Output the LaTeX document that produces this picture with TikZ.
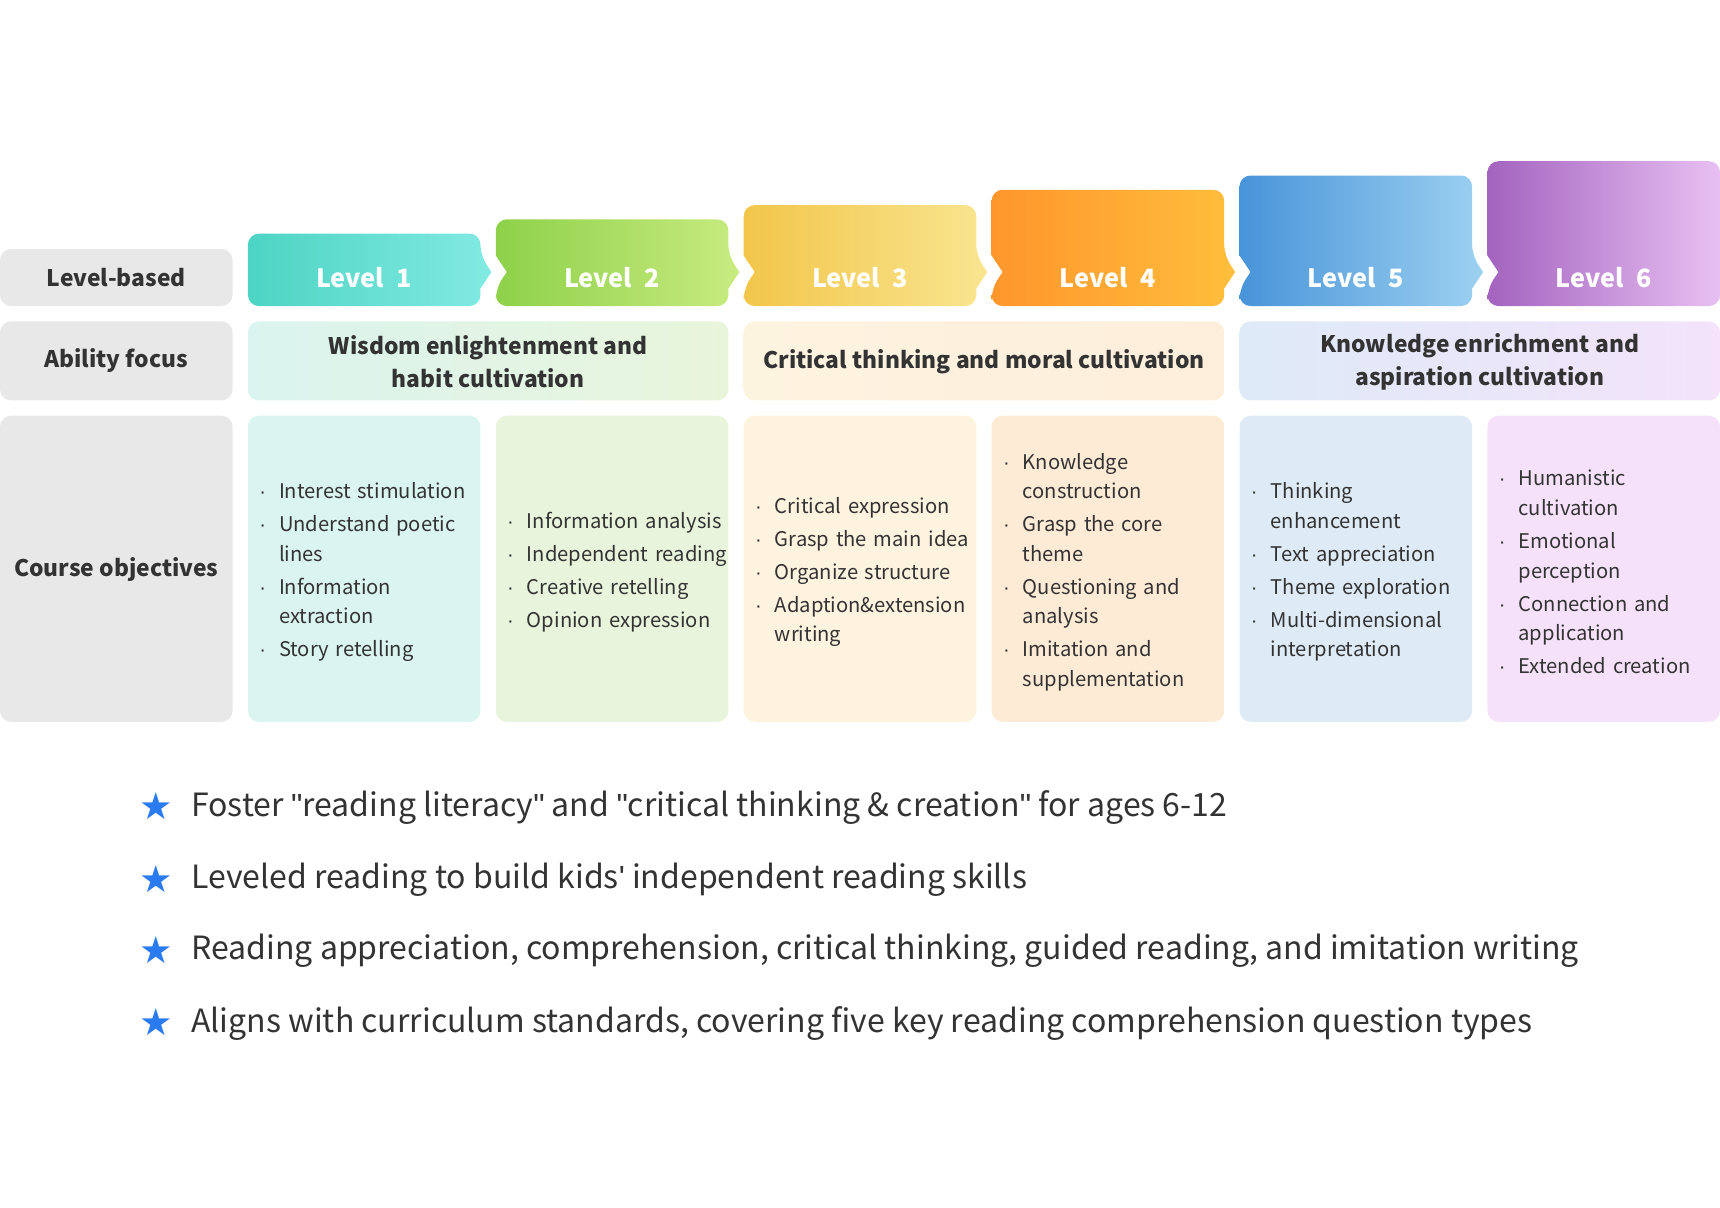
\documentclass[tikz,border=0pt]{standalone}
\usepackage{fontspec}
\setmainfont{Noto Sans CJK SC}
\newfontfamily\symf{DejaVu Sans}
\newfontfamily\qf{Liberation Sans}
\usetikzlibrary{shapes.geometric}
\definecolor{txt}{HTML}{333333}
\definecolor{gr}{HTML}{E8E8E8}
\definecolor{starblue}{HTML}{2B7BF0}
\tikzset{
  lab/.style={font=\bfseries\fontsize{10.4}{15}\selectfont, text=txt, align=center},
  lvl/.style={font=\bfseries\fontsize{11.5}{14}\selectfont, text=white},
  lst/.style={anchor=west, text=txt, font=\fontsize{9.2}{13.5}\selectfont, text width=120pt, align=left, inner sep=0pt},
  bl/.style={anchor=west, text=txt, font=\fontsize{14.6}{18}\selectfont, inner sep=0pt},
  star/.style={anchor=center, text=starblue, font=\symf\fontsize{17}{18}\selectfont, inner sep=0pt}
}
\newcommand{\itm}[1]{{\hangindent=9pt\hangafter=1\noindent\makebox[9pt][l]{\qf·}#1\par}\vspace{1.5pt}}
\newcommand{\nl}{\hfil\break}
\newcommand{\q}{{\qf"}}
\begin{document}
\begin{tikzpicture}[x=0.5pt,y=-0.5pt]
\useasboundingbox (0,0) rectangle (1568,1101);
% left gray column
\fill[gr, rounded corners=5pt] (0,227) rectangle (212,279);
\fill[gr, rounded corners=5pt] (0,293) rectangle (212,365);
\fill[gr, rounded corners=5pt] (0,379) rectangle (212,658);
\node[lab] (lb) at (106,253) {Level-based};
\node[lab] (af) at (106,329) {Ability focus};
\node[lab] (co) at (106,519) {Course objectives};
% level headers
\foreach \i/\t/\ca/\cb in {0/213/4DD4C4/82EAE2, 1/200/8ED14A/C8EB80, 2/187/F2C64A/F9E590, 3/173/FF962C/FFBE3C, 4/160/4894D9/9DD1F1, 5/147/A363BF/E8C0F2}{
  \pgfmathsetmacro{\xl}{226+226*\i}
  \pgfmathsetmacro{\xr}{\xl+212}
  \definecolor{ca}{HTML}{\ca}\definecolor{cb}{HTML}{\cb}
  \ifnum\i=0
    \shade[left color=ca, right color=cb, rounded corners=5pt]
      (\xl,\t) -- (\xr,\t) -- (\xr,233) [sharp corners]-- (\xr+10,248) -- (\xr,263) [rounded corners=5pt]-- (\xr,279) -- (\xl,279) -- cycle;
  \else\ifnum\i=5
    \shade[left color=ca, right color=cb, rounded corners=5pt]
      (\xl,\t) -- (\xr,\t) -- (\xr,279) -- (\xl,279) -- (\xl,263) [sharp corners]-- (\xl+10,248) -- (\xl,233) [rounded corners=5pt]-- cycle;
  \else
    \shade[left color=ca, right color=cb, rounded corners=5pt]
      (\xl,\t) -- (\xr,\t) -- (\xr,233) [sharp corners]-- (\xr+10,248) -- (\xr,263) [rounded corners=5pt]-- (\xr,279) -- (\xl,279) -- (\xl,263) [sharp corners]-- (\xl+10,248) -- (\xl,233) [rounded corners=5pt]-- cycle;
  \fi\fi
}
\node[lvl] (l1) at (332,253) {Level\enspace 1};
\node[lvl] (l2) at (558,253) {Level\enspace 2};
\node[lvl] (l3) at (784,253) {Level\enspace 3};
\node[lvl] (l4) at (1010,253) {Level\enspace 4};
\node[lvl] (l5) at (1236,253) {Level\enspace 5};
\node[lvl] (l6) at (1462,253) {Level\enspace 6};
% ability focus
\definecolor{a1}{HTML}{DAF4EF}\definecolor{a2}{HTML}{E9F5DB}
\definecolor{a3}{HTML}{FDF4E0}\definecolor{a4}{HTML}{FDEEDB}
\definecolor{a5}{HTML}{DEEAF8}\definecolor{a6}{HTML}{F4E3FA}
\shade[left color=a1, right color=a2, rounded corners=5pt] (226,293) rectangle (664,365);
\shade[left color=a3, right color=a4, rounded corners=5pt] (678,293) rectangle (1116,365);
\shade[left color=a5, right color=a6, rounded corners=5pt] (1130,293) rectangle (1568,365);
\node[lab] (f1) at (445,330) {Wisdom enlightenment and\\habit cultivation};
\node[lab] (f2) at (897,330) {Critical thinking and moral cultivation};
\node[lab] (f3) at (1349,330) {Knowledge enrichment and\\aspiration cultivation};
% objectives boxes
\foreach \i/\c in {0/DAF4EF,1/E8F5DC,2/FDF3DF,3/FDEBD5,4/DEEBF7,5/F6E1FA}{
  \definecolor{oc}{HTML}{\c}
  \fill[oc, rounded corners=5pt] (226+226*\i,379) rectangle (438+226*\i,658);
}
\node[lst] (o1) at (236,523) {\itm{Interest stimulation}\itm{Understand poetic\nl lines}\itm{Information\nl extraction}\itm{Story retelling}};
\node[lst] (o2) at (462,523) {\itm{Information analysis}\itm{Independent reading}\itm{Creative retelling}\itm{Opinion expression}};
\node[lst] (o3) at (688,523) {\itm{Critical expression}\itm{Grasp the main idea}\itm{Organize structure}\itm{Adaption\&extension\nl writing}};
\node[lst] (o4) at (914,523) {\itm{Knowledge\nl construction}\itm{Grasp the core\nl theme}\itm{Questioning and\nl analysis}\itm{Imitation and\nl supplementation}};
\node[lst] (o5) at (1140,523) {\itm{Thinking\nl enhancement}\itm{Text appreciation}\itm{Theme exploration}\itm{Multi-dimensional\nl interpretation}};
\node[lst] (o6) at (1366,523) {\itm{Humanistic\nl cultivation}\itm{Emotional\nl perception}\itm{Connection and\nl application}\itm{Extended creation}};
% bottom bullets
\node[star] (s1) at (142,735) {★};
\node[star] (s2) at (142,801) {★};
\node[star] (s3) at (142,866) {★};
\node[star] (s4) at (142,932) {★};
\node[bl] (b1) at (174,736) {Foster \q reading literacy\q{} and \q critical thinking \& creation\q{} for ages 6-12};
\node[bl] (b2) at (174,802) {Leveled reading to build kids{\qf'} independent reading skills};
\node[bl] (b3) at (174,867) {Reading appreciation, comprehension, critical thinking, guided reading, and imitation writing};
\node[bl] (b4) at (174,933) {Aligns with curriculum standards, covering five key reading comprehension question types};
\end{tikzpicture}
\end{document}
